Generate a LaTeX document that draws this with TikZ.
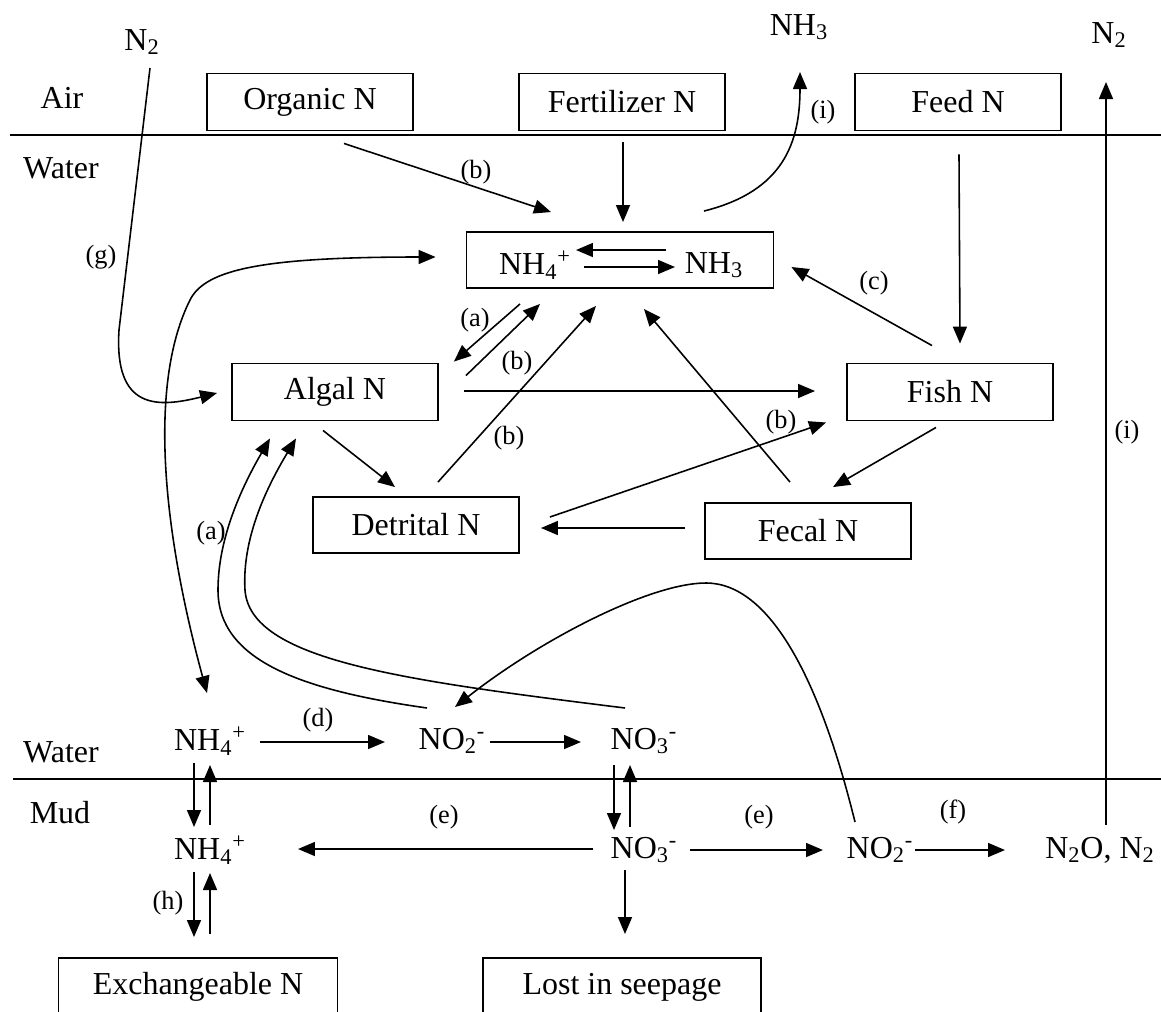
\documentclass[tikz,border=0pt]{standalone}
\usepackage{fontspec}
\setmainfont{Liberation Serif}
\usetikzlibrary{arrows.meta,calc}

\begin{document}
\begin{tikzpicture}[x=0.02cm, y=-0.02cm, line width=0.9pt,
    >={Triangle[length=0.34cm,width=0.28cm]},
    every node/.style={font=\fontsize{18.2}{20}\selectfont},
    box/.style={draw, line width=1.1pt, minimum width=4.12cm, minimum height=1.14cm},
    lbl/.style={font=\fontsize{15}{17}\selectfont}]
    \clip (0,0) rectangle (1161,1012);

    % air / water / mud
    \draw[line width=1pt] (10,135) -- (1161,135);
    \draw[line width=1pt] (13,779) -- (1161,779);
    \node (air) at (62,98) {Air};
    \node (water) at (61,168) {Water};
    \node (water2) at (61,752) {Water};
    \node (mud) at (60,813) {Mud};
    \node (n2air) at (142,42) {N\textsubscript{2}};
    \node (nh3air) at (799,27) {NH\textsubscript{3}};
    \node (n2out) at (1109,35) {N\textsubscript{2}};

    % pools
    \node[box] (organic) at (310,102) {Organic N};
    \node[box] (fert) at (622,102) {Fertilizer N};
    \node[box] (feed) at (958,102) {Feed N};
    \node[box, minimum width=6.14cm, minimum height=1.12cm] (pool) at (620,260) {};
    \node (nh4in) at (535,265) {NH\textsubscript{4}\textsuperscript{+}};
    \node (nh3in) at (714,265) {NH\textsubscript{3}};
    \node[box] (algal) at (335,392) {Algal N};
    \node[box] (fish) at (950,392) {Fish N};
    \node[box, minimum height=1.12cm] (detrital) at (416,525) {Detrital N};
    \node[box, minimum height=1.12cm] (fecal) at (808,531) {Fecal N};

    \node (nh4w) at (210,741) {NH\textsubscript{4}\textsuperscript{+}};
    \node (no2w) at (452,741) {NO\textsubscript{2}\textsuperscript{-}};
    \node (no3w) at (644,741) {NO\textsubscript{3}\textsuperscript{-}};
    \node (nh4m) at (210,850) {NH\textsubscript{4}\textsuperscript{+}};
    \node (no3m) at (644,850) {NO\textsubscript{3}\textsuperscript{-}};
    \node (no2m) at (880,850) {NO\textsubscript{2}\textsuperscript{-}};
    \node (gas) at (1100,850) {N\textsubscript{2}O, N\textsubscript{2}};
    \node[box, minimum width=5.58cm, minimum height=1.16cm] (exch) at (198,987) {Exchangeable N};
    \node[box, minimum width=5.56cm, minimum height=1.16cm] (seep) at (622,987) {Lost in seepage};

    % process labels
    \node[lbl] (b1) at (476,172) {(b)};
    \node[lbl] (i1) at (823,112) {(i)};
    \node[lbl] (g1) at (101,257) {(g)};
    \node[lbl] (c1) at (874,283) {(c)};
    \node[lbl] (a1) at (475,320) {(a)};
    \node[lbl] (b2) at (517,363) {(b)};
    \node[lbl] (b3) at (509,438) {(b)};
    \node[lbl] (b4) at (781,422) {(b)};
    \node[lbl] (i2) at (1127,432) {(i)};
    \node[lbl] (a2) at (211,533) {(a)};
    \node[lbl] (d1) at (318,720) {(d)};
    \node[lbl] (h1) at (168,903) {(h)};
    \node[lbl] (e1) at (444,817) {(e)};
    \node[lbl] (e2) at (759,817) {(e)};
    \node[lbl] (f1) at (953,812) {(f)};

    % water column
    \draw[->] ($(organic.south)+(34,12)$) -- ($(pool.north)+(-69,-19)$);
    \draw[->] ($(fert.south)+(1,11)$) -- ($(pool.north)+(3,-9)$);
    \draw[->] ($(pool.north)+(84,-20)$) .. controls +(80,-20) and +(0,70) .. ($(nh3air)+(1,45)$);
    \draw[->] ($(nh3in)+(-48,-15)$) -- ($(nh4in)+(41,-15)$);
    \draw[->] ($(nh4in)+(49,2)$) -- ($(nh3in)+(-39,2)$);
    \draw[->] ($(feed.south)+(1,23)$) -- ($(fish.north)+(10,-19)$);
    \draw[->] ($(fish.north)+(-18,-17)$) -- ($(pool.east)+(17,7)$);
    \draw[->] ($(pool.south)+(-100,15)$) -- ($(algal.north east)+(15,-1)$);
    \draw[->] ($(algal.north east)+(27,13)$) -- ($(pool.south)+(-80,15)$);
    \draw[->] ($(algal.east)+(25,-1)$) -- ($(fish.west)+(-31,-1)$);
    \draw[->] ($(detrital.north)+(22,-14)$) -- ($(pool.south)+(-24,17)$);
    \draw[->] ($(fecal.north)+(-18,-20)$) -- ($(pool.south)+(24,20)$);
    \draw[->] ($(algal.south)+(-12,9)$) -- ($(detrital.north)+(-21,-9)$);
    \draw[->] ($(detrital.east)+(30,-8)$) -- ($(fish.south west)+(-20,1)$);
    \draw[->] ($(fecal.west)+(-19,-3)$) -- ($(detrital.east)+(21,3)$);
    \draw[->] ($(fish.south)+(-14,6)$) -- ($(fecal.north)+(25,-15)$);
    \draw[->] ($(n2air)+(8,26)$) -- ++(-31,262) .. controls +(-5,80) and +(-60,15) .. ($(algal.west)+(-14,1)$);

    % long loops
    \draw[<->] ($(nh4w)+(-3,-48)$) .. controls (160,520) and (150,380) .. (190,300) .. controls (205,270) and (260,257) .. ($(pool.west)+(-30,-3)$);
    \draw[->] ($(no2w)+(-25,-33)$) .. controls (300,690) and (218,660) .. (218,590) .. controls (218,540) and (240,490) .. ($(algal.south)+(-65,17)$);
    \draw[->] ($(no3w)+(-19,-33)$) .. controls (400,680) and (250,660) .. (245,590) .. controls (242,540) and (265,490) .. ($(algal.south)+(-39,17)$);
    \draw[->] ($(no2m)+(-25,-28)$) .. controls (820,680) and (770,583) .. (706,583) .. controls (650,583) and (540,640) .. ($(no2w)+(3,-34)$);

    % sediment
    \draw[->] ($(nh4w)+(50,1)$) -- ($(no2w)+(-67,1)$);
    \draw[->] ($(no2w)+(38,1)$) -- ($(no3w)+(-63,1)$);
    \draw[->] ($(nh4w)+(-16,22)$) -- ($(nh4m)+(-16,-23)$);
    \draw[->] ($(nh4m)+(0,-25)$) -- ($(nh4w)+(0,24)$);
    \draw[->] ($(nh4m)+(-16,22)$) -- ($(exch.north)+(-4,-20)$);
    \draw[->] ($(exch.north)+(12,-23)$) -- ($(nh4m)+(0,23)$);
    \draw[->] ($(no3w)+(-30,24)$) -- ($(no3m)+(-30,-20)$);
    \draw[->] ($(no3m)+(-14,-23)$) -- ($(no3w)+(-14,24)$);
    \draw[->] ($(no3m)+(-51,-1)$) -- ($(nh4m)+(88,-1)$);
    \draw[->] ($(no3m)+(46,0)$) -- ($(no2m)+(-57,0)$);
    \draw[->] ($(no2m)+(35,0)$) -- ($(gas)+(-95,0)$);
    \draw[->] ($(no3m)+(-19,20)$) -- ($(seep.north)+(3,-23)$);
    \draw[->] ($(gas)+(6,-25)$) -- ($(n2out)+(-3,47)$);
\end{tikzpicture}
\end{document}
